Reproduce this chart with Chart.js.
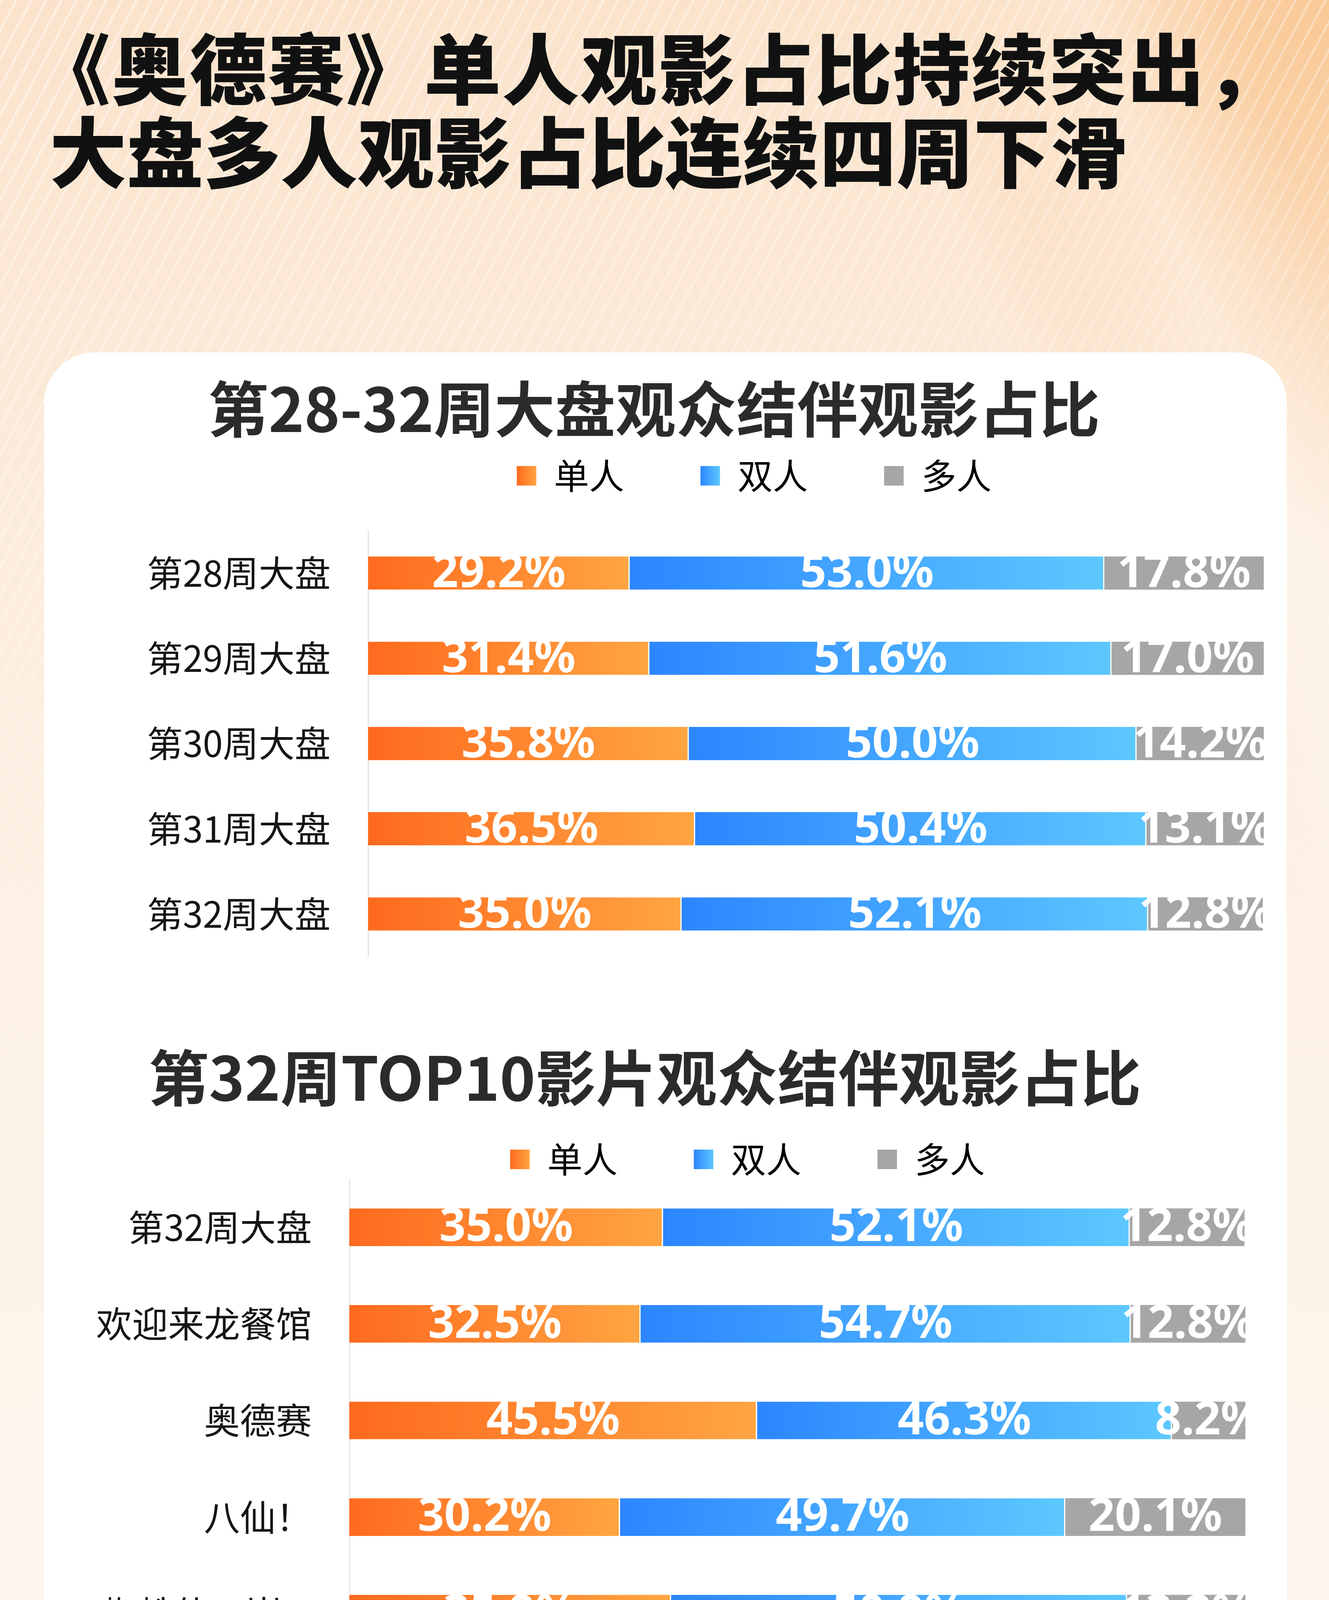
<!DOCTYPE html>
<html><head><meta charset="utf-8">
<script src="https://cdn.jsdelivr.net/npm/chart.js@4.4.1/dist/chart.umd.min.js"></script>
<style>
html,body{margin:0;padding:0;}
body{width:3401px;height:6429px;position:relative;overflow:hidden;font-family:"Noto Sans CJK SC","Noto Sans",sans-serif;
 background:
  radial-gradient(ellipse 1500px 2000px at 100% 0%, rgba(249,196,140,0.85), rgba(249,196,140,0) 70%),
  linear-gradient(180deg,#FBE3CB 0%,#FCEBDB 18%,#FDF1E5 38%,#FDF5EC 60%,#FDF6EF 100%);}
#stripes{position:absolute;left:0;top:0;width:3401px;height:3600px;
 background:repeating-linear-gradient(118deg, rgba(255,255,255,0.45) 0 6px, rgba(255,255,255,0) 6px 34px);
 -webkit-mask-image:linear-gradient(160deg,#000 0%,rgba(0,0,0,0.6) 35%,rgba(0,0,0,0) 70%);
 mask-image:linear-gradient(160deg,#000 0%,rgba(0,0,0,0.6) 35%,rgba(0,0,0,0) 70%);}
#beam{position:absolute;left:2300px;top:-200px;width:700px;height:3400px;transform:rotate(-22deg);transform-origin:top left;
 background:linear-gradient(90deg,rgba(255,255,255,0),rgba(255,255,255,0.35),rgba(255,255,255,0));}
.headline{position:absolute;left:127px;top:60px;font-size:197px;line-height:213px;font-weight:900;color:#111;white-space:nowrap;letter-spacing:0;}
.headline .l1{margin-left:-42px;letter-spacing:3px;}
.card{position:absolute;left:113px;top:902px;width:3180px;height:5013px;border-radius:130px;background:#fff;}
.wrap{position:absolute;left:113px;width:3180px;}
#w1{top:902px;height:1698px;}
#w2{top:2600px;height:3290px;}
.foot{position:absolute;left:123px;font-size:104px;line-height:104px;color:#555;white-space:nowrap;}
#f1{top:6114px;}
#f2{top:6291px;}
#logo{position:absolute;left:1296px;top:6165px;width:180px;height:180px;}
#logotxt{position:absolute;left:1518px;top:6194px;font-size:122px;line-height:122px;color:#F26B1F;font-weight:500;white-space:nowrap;}
</style></head><body>
<div id="stripes"></div>
<div id="beam"></div>
<div class="headline"><div class="l1">《奥德赛》单人观影占比持续突出，</div><div>大盘多人观影占比连续四周下滑</div></div>
<div class="card"></div>
<div class="wrap" id="w1"><canvas id="c1"></canvas></div>
<div class="wrap" id="w2"><canvas id="c2"></canvas></div>
<div class="foot" id="f1">统计截至时间</div>
<div class="foot" id="f2">2026年8月17日</div>
<svg id="logo" viewBox="0 0 180 180">
 <rect x="0" y="0" width="180" height="180" rx="40" fill="#FF6A1E"/>
 <path d="M60 168 L60 92 L120 92 L120 168 Z" fill="#fff"/>
 <path d="M52 92 L52 72 L128 72 L128 92 Z" fill="#fff"/>
 <path d="M66 72 L90 40 L114 72 Z" fill="#fff"/>
 <circle cx="90" cy="60" r="6" fill="#FF6A1E"/>
 <path d="M60 150 L120 118 L120 136 L60 168 Z" fill="#FFA06A"/>
</svg>
<div id="logotxt">灯塔专业版</div>
<script>
// ---------- data ----------
const seriesNames = ['单人', '双人', '多人'];

const weekLabels = ['第28周大盘', '第29周大盘', '第30周大盘', '第31周大盘', '第32周大盘'];
const weekSingle = [29.2, 31.4, 35.8, 36.5, 35.0];
const weekDouble = [53.0, 51.6, 50.0, 50.4, 52.1];
const weekMulti  = [17.8, 17.0, 14.2, 13.1, 12.8];

const filmLabels = ['第32周大盘', '欢迎来龙餐馆', '奥德赛', '八仙！', '蜘蛛侠：崭...', '去你的岛', '功夫女足', '痴迷', '汪汪队立大...', '逃出绝命街', '年会不能停！...'];
const filmSingle = [35.0, 32.5, 45.5, 30.2, 35.9, 40.5, 32.2, 28.9, 55.8, 39.8, 37.5];
const filmDouble = [52.1, 54.7, 46.3, 49.7, 50.9, 53.3, 46.7, 60.4, 36.4, 50.5, 53.6];
const filmMulti  = [12.8, 12.8, 8.2, 20.1, 13.2, 6.2, 21.1, 10.7, 7.8, 9.7, 8.9];

const chart1Title = '第28-32周大盘观众结伴观影占比';
const chart2Title = '第32周TOP10影片观众结伴观影占比';

// ---------- styles ----------
const CJK = '"Noto Sans CJK SC", "Noto Sans", sans-serif';
const NUM = '"Noto Sans", "Open Sans", sans-serif';
const ORANGE = ['#FF6A1E', '#FFA542'];
const BLUE = ['#2C86FF', '#5DC8FF'];
const GRAY = ['#A6A6A6', '#A6A6A6'];
const palette = [ORANGE, BLUE, GRAY];

function segGradient(colors) {
  return (ctx) => {
    const chart = ctx.chart;
    if (ctx.type !== 'data' || !chart.chartArea || !chart.scales.x) return colors[0];
    const xs = chart.scales.x;
    const di = ctx.datasetIndex, i = ctx.dataIndex;
    let start = 0;
    for (let d = 0; d < di; d++) start += chart.data.datasets[d].data[i];
    const v = chart.data.datasets[di].data[i];
    const x0 = xs.getPixelForValue(start), x1 = xs.getPixelForValue(start + v);
    if (!isFinite(x0) || !isFinite(x1) || x1 <= x0) return colors[0];
    const g = chart.ctx.createLinearGradient(x0, 0, x1, 0);
    g.addColorStop(0, colors[0]);
    g.addColorStop(1, colors[1]);
    return g;
  };
}

const legendPlace = {
  id: 'legendPlace',
  afterLayout(chart, args, opts) {
    const lg = chart.legend;
    if (!lg || opts.cx == null) return;
    const p = lg.options.labels.padding;
    const newTop = opts.cy - p - opts.itemH / 2;
    lg.top = newTop;
    lg.bottom = opts.cy + opts.itemH;
    const dx = opts.cx - (lg.left + lg.right) / 2;
    lg.left += dx; lg.right += dx;
  },
  beforeDraw(chart) {
    const lg = chart.legend;
    if (!lg || !lg.legendItems || !lg.legendHitBoxes) return;
    const bw = lg.options.labels.boxWidth;
    lg.legendItems.forEach((item, k) => {
      const hb = lg.legendHitBoxes[k];
      const cols = palette[k];
      const g = chart.ctx.createLinearGradient(hb.left, 0, hb.left + bw, 0);
      g.addColorStop(0, cols[0]);
      g.addColorStop(1, cols[1]);
      item.fillStyle = g;
      item.lineWidth = 0;
    });
  }
};

const valueLabels = {
  id: 'valueLabels',
  afterDatasetsDraw(chart, args, opts) {
    const ctx = chart.ctx;
    ctx.save();
    ctx.font = 'bold ' + opts.size + 'px ' + NUM;
    ctx.fillStyle = '#ffffff';
    ctx.textAlign = 'center';
    ctx.textBaseline = 'middle';
    chart.data.datasets.forEach((ds, di) => {
      const meta = chart.getDatasetMeta(di);
      meta.data.forEach((el, i) => {
        const cx = (el.x + el.base) / 2;
        ctx.fillText(ds.data[i].toFixed(1) + '%', cx, el.y + opts.dy);
      });
    });
    ctx.restore();
  }
};

function makeDatasets(a, b, c) {
  return [a, b, c].map((arr, k) => ({
    label: seriesNames[k],
    data: arr,
    backgroundColor: segGradient(palette[k]),
    borderColor: '#ffffff',
    borderWidth: k < 2 ? {top: 0, bottom: 0, left: 0, right: 3} : 0,
    borderSkipped: false,
    categoryPercentage: 0.39,
    barPercentage: 1.0
  }));
}

function makeChart(id, labels, datasets, cfg) {
  return new Chart(document.getElementById(id), {
    type: 'bar',
    data: {labels: labels, datasets: datasets},
    plugins: [legendPlace, valueLabels],
    options: {
      indexAxis: 'y',
      responsive: true,
      maintainAspectRatio: false,
      animation: false,
      devicePixelRatio: 1,
      layout: {padding: {left: 0, right: cfg.padRight, top: 0, bottom: cfg.padBottom}},
      scales: {
        x: {stacked: true, min: 0, max: 100, display: false},
        y: {
          stacked: true,
          grid: {display: false, drawTicks: false},
          border: {display: true, color: '#E3E3E3', width: 3},
          ticks: {autoSkip: false, color: '#151515', padding: 96, font: {family: CJK, size: 92}},
          afterFit(scale) { scale.width = cfg.axisWidth; }
        }
      },
      plugins: {
        title: {display: true, text: cfg.title, color: '#2B2B2B',
          font: {family: CJK, size: 155, weight: 'bold', lineHeight: 1.2},
          padding: {top: cfg.titleTop, bottom: 0}},
        legend: {display: true, position: 'top', maxHeight: cfg.legendH,
          labels: {color: '#000', boxWidth: 50, boxHeight: 50, padding: 195, font: {family: CJK, size: 90}}},
        tooltip: {enabled: false},
        legendPlace: {cx: cfg.legendX, cy: cfg.legendY, itemH: 90},
        valueLabels: {size: 118, dy: 2}
      }
    }
  });
}

makeChart('c1', weekLabels, makeDatasets(weekSingle, weekDouble, weekMulti), {
  title: chart1Title, titleTop: 52, legendH: 218, legendX: 1817, legendY: 316,
  axisWidth: 829, padRight: 59, padBottom: 62
});
makeChart('c2', filmLabels, makeDatasets(filmSingle, filmDouble, filmMulti), {
  title: chart2Title, titleTop: 66, legendH: 166, legendX: 1800, legendY: 368,
  axisWidth: 781, padRight: 106, padBottom: 67
});
</script>
</body></html>
